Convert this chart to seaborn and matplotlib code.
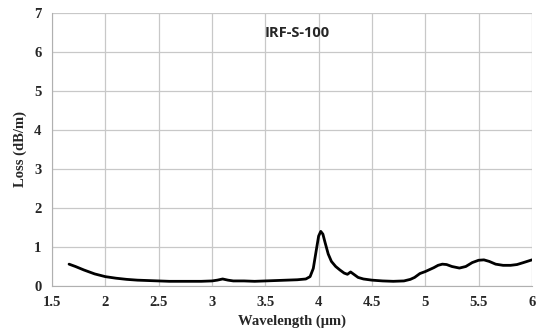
import numpy as np
import pandas as pd
import matplotlib
matplotlib.use('Agg')
import matplotlib.pyplot as plt
import seaborn as sns

# loss spectrum
wavelength = [1.66, 1.72, 1.8, 1.9, 2.0, 2.1, 2.2, 2.3, 2.4, 2.5, 2.6, 2.7, 2.8, 2.9,
              3.0, 3.05, 3.1, 3.15, 3.2, 3.3, 3.4, 3.5, 3.6, 3.7, 3.8, 3.88, 3.92,
              3.95, 3.98, 4.0, 4.02, 4.04, 4.06, 4.09, 4.12, 4.16, 4.2, 4.24, 4.27,
              4.3, 4.33, 4.37, 4.42, 4.5, 4.6, 4.7, 4.8, 4.86, 4.9, 4.95, 5.0, 5.04,
              5.08, 5.12, 5.16, 5.2, 5.25, 5.32, 5.38, 5.44, 5.5, 5.55, 5.6, 5.66,
              5.73, 5.8, 5.86, 5.92, 6.0]
loss = [0.56, 0.5, 0.41, 0.31, 0.24, 0.2, 0.17, 0.15, 0.14, 0.13, 0.12, 0.12, 0.12,
        0.12, 0.13, 0.15, 0.18, 0.15, 0.13, 0.13, 0.12, 0.13, 0.14, 0.15, 0.16, 0.18,
        0.24, 0.45, 0.95, 1.28, 1.4, 1.33, 1.12, 0.82, 0.63, 0.5, 0.41, 0.33, 0.3,
        0.36, 0.3, 0.22, 0.18, 0.15, 0.13, 0.12, 0.13, 0.17, 0.22, 0.32, 0.37, 0.42,
        0.47, 0.53, 0.56, 0.55, 0.5, 0.46, 0.5, 0.6, 0.66, 0.67, 0.63, 0.56, 0.53,
        0.53, 0.55, 0.6, 0.67]

df = pd.DataFrame({'Wavelength': wavelength, 'Loss': loss})

sns.set_style('white')
fig = plt.figure(figsize=(5.45, 3.29), dpi=100)
ax = fig.add_axes([0.0954, 0.1307, 0.8806, 0.8298])

sns.lineplot(data=df, x='Wavelength', y='Loss', color='black', linewidth=2, ax=ax)

ax.set_xlim(1.5, 6)
ax.set_ylim(0, 7)
ax.set_xticks([1.5, 2, 2.5, 3, 3.5, 4, 4.5, 5, 5.5, 6])
ax.set_xticklabels(['1.5', '2', '2.5', '3', '3.5', '4', '4.5', '5', '5.5', '6'])
ax.set_yticks(range(8))
ax.grid(True, color='#c8c8c8', linewidth=0.9)
for s in ax.spines.values():
    s.set_visible(False)
ax.spines['left'].set_visible(True)
ax.spines['bottom'].set_visible(True)
ax.spines['left'].set_color('#b0b0b0')
ax.spines['bottom'].set_color('#b0b0b0')
ax.tick_params(axis='both', which='both', length=4, color='#b0b0b0', direction='out')

serif = {'family': 'Liberation Serif', 'weight': 'bold', 'size': 10.5}
for lab in ax.get_xticklabels() + ax.get_yticklabels():
    lab.set_fontfamily('Liberation Serif')
    lab.set_fontweight('bold')
    lab.set_fontsize(10.5)
ax.set_xlabel('Wavelength (μm)', fontdict=serif, labelpad=4)
ax.set_ylabel('Loss (dB/m)', fontdict=serif, labelpad=5)

ax.text(3.8, 6.48, 'IRF-S-100', ha='center', va='center', fontsize=10.5,
        fontweight='bold', family='Open Sans')

fig.savefig('out.png', dpi=100)
